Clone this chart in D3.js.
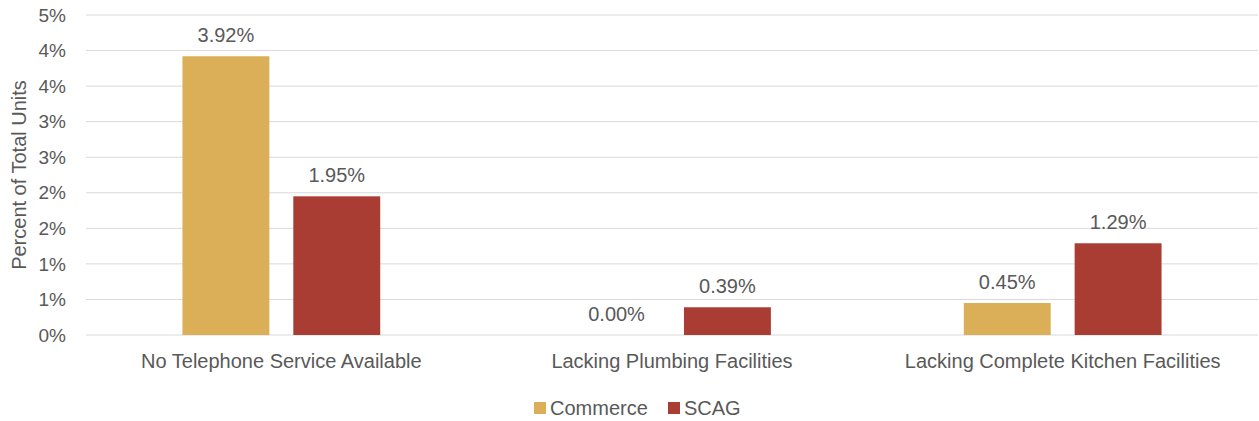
<!DOCTYPE html>
<html>
<head>
<meta charset="utf-8">
<script src="https://cdn.jsdelivr.net/npm/d3@7"></script>
<style>
  body { margin: 0; background: #fff; }
  text { font-family: 'Liberation Sans', Arial, sans-serif; fill: #595959; }
</style>
</head>
<body>
<div id="chart"></div>
<script>
const categories = ['No Telephone Service Available', 'Lacking Plumbing Facilities', 'Lacking Complete Kitchen Facilities']
const series = ['Commerce', 'SCAG']
const commerceValues = [3.92, 0.00, 0.45]
const scagValues = [1.95, 0.39, 1.29]
const yTicks = [0, 0.5, 1, 1.5, 2, 2.5, 3, 3.5, 4, 4.5]
const colors = ['#DBAE58', '#A93D33']

const data = categories.map((c, i) => ({
  category: c,
  values: [commerceValues[i], scagValues[i]]
}))

let margin = {top: 15, right: 1, bottom: 86, left: 86},
    width = 1259 - margin.left - margin.right,
    height = 421 - margin.top - margin.bottom

let svg = d3.select('#chart').append('svg')
    .attr('width', 1259)
    .attr('height', 421)
  .append('g')
    .attr('transform', 'translate(' + margin.left + ',' + margin.top + ')')

let x0 = d3.scaleBand().domain(categories).range([0, width])
let x1 = d3.scaleBand().domain(series).range([0, x0.bandwidth()])
    .paddingInner(0.216).paddingOuter(0.87)
let y = d3.scaleLinear().domain([0, 4.5]).range([height, 0])

// gridlines
svg.append('g')
  .selectAll('line')
  .data(yTicks)
  .join('line')
    .attr('x1', 0)
    .attr('x2', width)
    .attr('y1', d => y(d))
    .attr('y2', d => y(d))
    .attr('stroke', '#D9D9D9')
    .attr('stroke-width', 1)

// y tick labels
svg.append('g')
  .selectAll('text')
  .data(yTicks)
  .join('text')
    .attr('x', -20)
    .attr('y', d => y(d))
    .attr('dy', '0.35em')
    .attr('text-anchor', 'end')
    .style('font-size', '19px')
    .text(d => Math.round(d) + '%')

svg.append('text')
    .attr('transform', 'rotate(-90)')
    .attr('x', -height / 2)
    .attr('y', -67)
    .attr('dy', '0.35em')
    .attr('text-anchor', 'middle')
    .style('font-size', '20px')
    .text('Percent of Total Units')

let groups = svg.selectAll('.group')
  .data(data)
  .join('g')
    .attr('class', 'group')
    .attr('transform', d => 'translate(' + x0(d.category) + ',0)')

groups.selectAll('rect')
  .data(d => d.values.map((v, i) => ({ key: series[i], value: v, i })))
  .join('rect')
    .attr('x', d => x1(d.key))
    .attr('width', x1.bandwidth())
    .attr('y', d => y(d.value))
    .attr('height', d => height - y(d.value))
    .attr('fill', d => colors[d.i])

groups.selectAll('.label')
  .data(d => d.values.map((v, i) => ({ key: series[i], value: v })))
  .join('text')
    .attr('class', 'label')
    .attr('x', d => x1(d.key) + x1.bandwidth() / 2)
    .attr('y', d => y(d.value) - 14)
    .attr('text-anchor', 'middle')
    .style('font-size', '20px')
    .text(d => d.value.toFixed(2) + '%')

// category labels
svg.append('g')
  .selectAll('text')
  .data(categories)
  .join('text')
    .attr('x', d => x0(d) + x0.bandwidth() / 2)
    .attr('y', height + 33)
    .attr('text-anchor', 'middle')
    .style('font-size', '20px')
    .text(d => d)

// legend
let legend = svg.append('g')
    .attr('transform', 'translate(' + (534 - margin.left) + ',' + (402 - margin.top) + ')')
let legendX = [0, 134]
series.forEach((s, i) => {
  let g = legend.append('g').attr('transform', 'translate(' + legendX[i] + ',0)')
  g.append('rect').attr('width', 12).attr('height', 12).attr('fill', colors[i])
  g.append('text')
      .attr('x', 16)
      .attr('y', 6)
      .attr('dy', '0.35em')
      .style('font-size', '20px')
      .text(s)
})
</script>
</body>
</html>
